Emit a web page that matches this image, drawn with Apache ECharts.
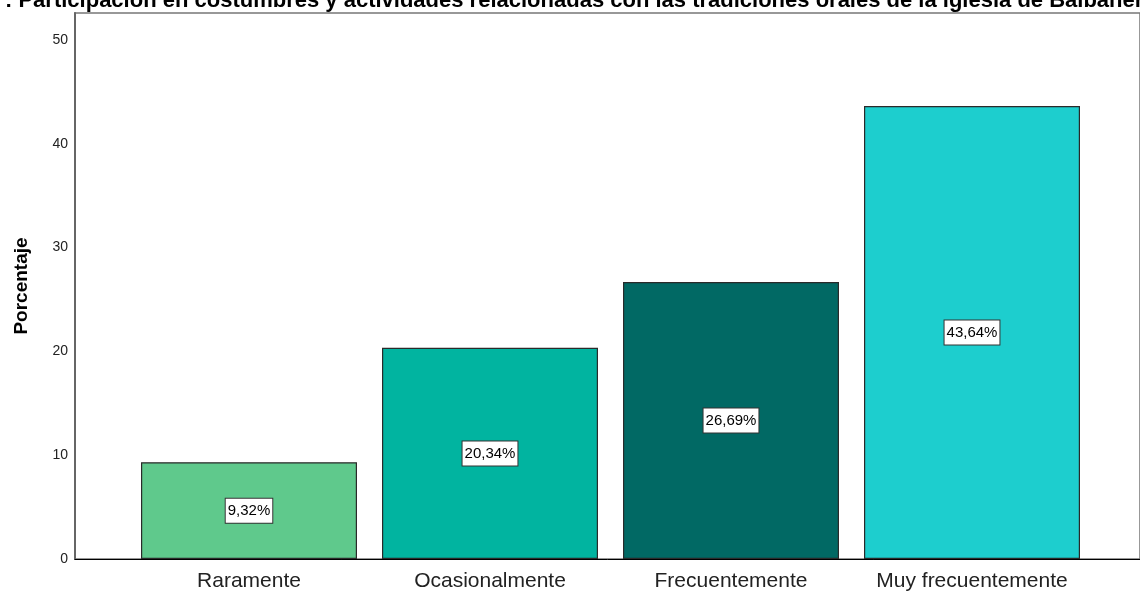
<!DOCTYPE html>
<html><head><meta charset="utf-8">
<script src="https://cdn.jsdelivr.net/npm/echarts@6/dist/echarts.min.js"></script>
<style>html,body{margin:0;padding:0;background:#fff}#c{width:1140px;height:593px}</style>
</head><body><div id="c"></div>
<script>
const categories = ['Raramente', 'Ocasionalmente', 'Frecuentemente', 'Muy frecuentemente'];
const values = [9.32, 20.34, 26.69, 43.64];
const labels = ['9,32%', '20,34%', '26,69%', '43,64%'];
const colors = ['#5fc98c', '#01b4a0', '#016964', '#1dcece'];
const yTicks = [0, 10, 20, 30, 40, 50];
const titleText = ': Participación en costumbres y actividades relacionadas con las tradiciones orales de la iglesia de Balbanera';
const yMax = 52.6;

const chart = echarts.init(document.getElementById('c'));
const font = 'Liberation Sans, Arial, sans-serif';
chart.setOption({
  animation: false,
  title: { text: titleText, left: 0, top: -15, textStyle: { fontFamily: font, fontSize: 22, fontWeight: 'bold', color: '#000' } },
  grid: [
    { left: 75, right: -2, top: 13, bottom: 34, show: true, borderColor: '#777', borderWidth: 1.5, containLabel: false },
    { left: 128.5, right: 47.5, top: 13, bottom: 34, containLabel: false }
  ],
  xAxis: [
    { gridIndex: 0, type: 'value', min: 0, max: 1, axisLabel: { show: false }, axisTick: { show: false }, splitLine: { show: false }, axisLine: { show: true, lineStyle: { color: '#000', width: 1 } } },
    { gridIndex: 1, type: 'category', data: categories, axisLine: { show: false }, axisTick: { show: false },
      axisLabel: { interval: 0, hideOverlap: false, fontFamily: font, fontSize: 21, color: '#222', margin: 12 } }
  ],
  yAxis: [
    { gridIndex: 0, type: 'value', min: 0, max: yMax, interval: 10, name: 'Porcentaje', nameLocation: 'middle', nameGap: 44,
      nameTextStyle: { fontFamily: font, fontSize: 19, fontWeight: 'bold', color: '#000' },
      axisLine: { show: true, lineStyle: { color: '#666', width: 2 } }, axisTick: { show: false }, splitLine: { show: false },
      axisLabel: { showMaxLabel: false, fontFamily: font, fontSize: 14, color: '#222', margin: 7,
        formatter: v => yTicks.includes(v) ? String(v) : '' } },
    { gridIndex: 1, type: 'value', min: 0, max: yMax, show: false, splitLine: { show: false } }
  ],
  series: [{
    type: 'bar', xAxisIndex: 1, yAxisIndex: 1, barWidth: 216,
    data: values.map((v, i) => ({ value: v, itemStyle: { color: colors[i] } })),
    itemStyle: { borderColor: '#2a2a2a', borderWidth: 1.2 },
    label: { show: true, position: 'inside', formatter: p => labels[p.dataIndex], fontFamily: font, fontSize: 15, color: '#000',
      backgroundColor: '#fff', borderColor: '#333', borderWidth: 1, padding: [5, 2, 4, 2] }
  }]
});
</script></body></html>
